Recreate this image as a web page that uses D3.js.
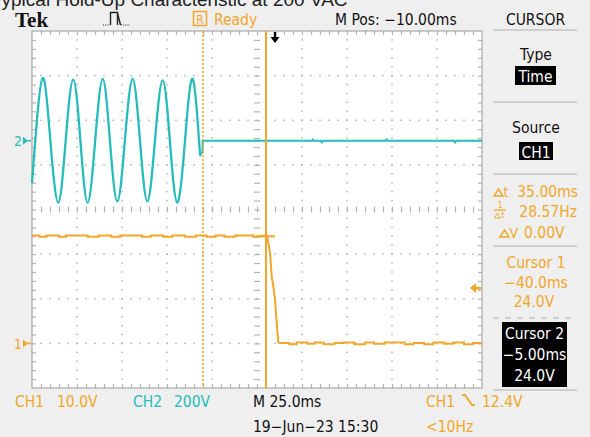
<!DOCTYPE html>
<html>
<head>
<meta charset="utf-8">
<script src="https://cdn.jsdelivr.net/npm/d3@7/dist/d3.min.js"></script>
<style>
  html, body { margin: 0; padding: 0; background: #efefef; }
  svg { display: block; }
</style>
</head>
<body>
<svg id="scope" width="590" height="437"></svg>
<script>
// ---- acquisition settings ----
const timeWindow = [-135, 115];        // ms across the 10 horizontal divisions
const divRange = [-4, 4];              // vertical divisions
const ch1 = { label: "CH1", scale: "10.0V", voltsPerDiv: 10, offsetDiv: -3 };
const ch2 = { label: "CH2", scale: "200V", voltsPerDiv: 200, offsetDiv: 1.54 };
const triggerLevel = 12.4;             // V on CH1
const triggerTime = 0;                 // ms
const cursorTimes = [-40.0, -5.0];     // ms
const cursorVolts = [24.0, 24.0];

// CH2: AC input (peaks, troughs and zero crossings), [ms, V]
const ch2Sine = [
  [-135, -190], [-133.2, 0], [-129.1, 281], [-124.8, 0], [-120.4, -277],
  [-116.3, 0], [-112.1, 274], [-108.1, 0], [-104.1, -277], [-99.9, 0],
  [-95.7, 277], [-91.7, 0], [-87.6, -272], [-83.4, 0], [-79.1, 277],
  [-75.0, 0], [-70.9, -272], [-66.7, 0], [-62.4, 271], [-58.4, 0],
  [-54.3, -277], [-50.0, 0], [-45.7, 277], [-42.2, 0], [-41.4, -54]
];
// CH2 after the input is removed, [ms, V]
const ch2Off = [
  [-41.4, -54], [-40.3, -54], [-40.2, 0], [20.5, 0], [21.0, 5], [21.5, 0],
  [25.5, 0], [26.0, -7], [26.8, 0], [61.5, 0], [62.0, 6], [62.6, 0],
  [99.5, 0], [100.0, -7], [100.8, 0], [115, 0]
];
// CH1: 24 V output, [ms, V]
const ch1High = [
  [-135, 24.2], [-131, 23.9], [-127, 24.2], [-120, 23.9], [-116, 24.2],
  [-109, 24.2], [-104, 23.9], [-98, 24.2], [-91, 23.9], [-86, 24.2],
  [-80, 24.2], [-74, 23.9], [-69, 24.2], [-62, 23.9], [-57, 24.2],
  [-50, 23.9], [-44, 24.2], [-38, 23.9], [-33, 24.2], [-28, 23.9],
  [-22, 24.2], [-17, 24.2], [-12, 23.9], [-8, 24.1], [-4.3, 24.0]
];
const ch1Fall = [
  [-4.3, 24.0], [-4.28, 23.8], [-3.72, 22.6], [-2.78, 20.4], [-1.83, 15.0],
  [-0.94, 12.8], [0.0, 9.9], [0.94, 4.7], [1.83, 0.2], [2.78, 0.0]
];
const ch1Low = [
  [2.78, 0.1], [8, -0.2], [12, 0.2], [18, -0.1], [22, 0.2], [27, -0.2],
  [33, 0.1], [38, 0.2], [44, -0.2], [50, 0.2], [55, -0.1], [61, 0.2],
  [66, 0.2], [72, -0.2], [77, 0.1], [83, -0.2], [88, 0.2], [94, -0.1],
  [99, 0.2], [105, -0.2], [110, 0.1], [115, 0.1]
];

// ---- readouts ----
const titleText = "Typical Hold-Up Characteristic at 200 VAC";
const statusText = { state: "Ready", mpos: "M Pos: \u221210.00ms", menu: "CURSOR" };
const timebase = "M 25.0ms";
const dateStamp = "19\u2212Jun\u221223 15:30";
const trigFreq = "<10Hz";
const deltaT = "35.00ms", invDeltaT = "28.57Hz", deltaV = "0.00V";
const cursorLabels = [
  ["Cursor 1", "\u221240.0ms", "24.0V"],
  ["Cursor 2", "\u22125.00ms", "24.0V"]
];

// ---- styles ----
const ORANGE = "#f2a72c";
const TEAL = "#26bcbc";
const GRID = "#b4b4b4";
const UI_FONT = "'DejaVu Sans Condensed', 'Liberation Sans Narrow', sans-serif";
const FS = 15.5;

const svg = d3.select("#scope").style("font-family", UI_FONT);
const W = 590, H = 437;
svg.append("rect").attr("width", W).attr("height", H).attr("fill", "#efefef");

const plot = { left: 32, right: 482, top: 31, bottom: 388 };
const x = d3.scaleLinear().domain(timeWindow).range([plot.left, plot.right]);
const yDiv = d3.scaleLinear().domain(divRange).range([plot.bottom, plot.top]);
const y1 = v => yDiv(ch1.offsetDiv + v / ch1.voltsPerDiv);
const y2 = v => yDiv(ch2.offsetDiv + v / ch2.voltsPerDiv);

// title (runs off the top edge)
svg.append("text").attr("x", -9).attr("y", 6).attr("font-size", 19)
  .style("font-family", "'Liberation Sans', Arial, sans-serif").attr("fill", "#222")
  .text(titleText);

// graticule background
svg.append("rect").attr("x", plot.left).attr("y", plot.top)
  .attr("width", plot.right - plot.left).attr("height", plot.bottom - plot.top)
  .attr("fill", "#ffffff");

// minor positions: 5 per division
const tSpan = timeWindow[1] - timeWindow[0];
const tMinor = d3.range(0, 51).map(i => timeWindow[0] + i * tSpan / 50);
const tMajor = d3.range(1, 10).map(i => timeWindow[0] + i * tSpan / 10);
const dMinor = d3.range(0, 41).map(i => divRange[0] + i * 0.2);
const dMajor = d3.range(-3, 4);
const tCenter = timeWindow[0] + tSpan / 2;

const g = svg.append("g");
// dotted grid lines
tMajor.filter(t => Math.abs(t - tCenter) > 1e-6).forEach(t => {
  g.selectAll(null).data(dMinor.slice(1, -1)).join("rect")
    .attr("x", x(t) - 0.75).attr("y", d => yDiv(d) - 0.75)
    .attr("width", 1.5).attr("height", 1.5).attr("fill", GRID);
});
dMajor.filter(d => d !== 0).forEach(d => {
  g.selectAll(null).data(tMinor.slice(1, -1)).join("rect")
    .attr("x", t => x(t) - 0.75).attr("y", yDiv(d) - 0.75)
    .attr("width", 1.5).attr("height", 1.5).attr("fill", GRID);
});

// edge and center ticks via axes
function tickAxis(axis, transform, size) {
  const a = g.append("g").attr("transform", transform)
    .call(axis.tickSize(size).tickFormat(""));
  a.select(".domain").remove();
  a.selectAll("line").attr("stroke", GRID).attr("stroke-width", 1.2);
  return a;
}
const tInner = tMinor.slice(1, -1);
const dInner = dMinor.slice(1, -1);
tickAxis(d3.axisBottom(x).tickValues(tInner), `translate(0,${plot.top})`, 4);
tickAxis(d3.axisTop(x).tickValues(tInner), `translate(0,${plot.bottom})`, 4);
tickAxis(d3.axisRight(yDiv).tickValues(dInner), `translate(${plot.left},0)`, 4);
tickAxis(d3.axisLeft(yDiv).tickValues(dInner), `translate(${plot.right},0)`, 4);
tickAxis(d3.axisBottom(x).tickValues(tInner), `translate(0,${yDiv(0) - 3})`, 6);
tickAxis(d3.axisRight(yDiv).tickValues(dInner), `translate(${x(tCenter) - 3},0)`, 6);

// border
svg.append("rect").attr("x", plot.left).attr("y", plot.top)
  .attr("width", plot.right - plot.left).attr("height", plot.bottom - plot.top)
  .attr("fill", "none").attr("stroke", "#a8a8a8").attr("stroke-width", 1.2);

// traces
const traces = svg.append("g");
const sineLine = d3.line().x(d => x(d[0])).y(d => y2(d[1])).curve(d3.curveNatural);
const ch2Line = d3.line().x(d => x(d[0])).y(d => y2(d[1]));
const ch1Step = d3.line().x(d => x(d[0])).y(d => y1(d[1])).curve(d3.curveStepAfter);
const ch1Line = d3.line().x(d => x(d[0])).y(d => y1(d[1]));

traces.append("path").attr("d", sineLine(ch2Sine)).attr("fill", "none")
  .attr("stroke", TEAL).attr("stroke-width", 2.3);
traces.append("path").attr("d", ch2Line(ch2Off)).attr("fill", "none")
  .attr("stroke", TEAL).attr("stroke-width", 2);
traces.append("path").attr("d", ch1Step(ch1High)).attr("fill", "none")
  .attr("stroke", ORANGE).attr("stroke-width", 2);
traces.append("path").attr("d", ch1Line(ch1Fall)).attr("fill", "none")
  .attr("stroke", ORANGE).attr("stroke-width", 2);
traces.append("path").attr("d", ch1Step(ch1Low)).attr("fill", "none")
  .attr("stroke", ORANGE).attr("stroke-width", 2);

// cursors
svg.append("line").attr("x1", x(cursorTimes[0])).attr("x2", x(cursorTimes[0]))
  .attr("y1", plot.top).attr("y2", plot.bottom)
  .attr("stroke", ORANGE).attr("stroke-width", 1.6).attr("stroke-dasharray", "2,2");
svg.append("line").attr("x1", x(cursorTimes[1])).attr("x2", x(cursorTimes[1]))
  .attr("y1", plot.top).attr("y2", plot.bottom)
  .attr("stroke", ORANGE).attr("stroke-width", 2);
svg.append("line").attr("x1", x(cursorTimes[1]) - 10).attr("x2", x(cursorTimes[1]) + 9)
  .attr("y1", y1(cursorVolts[1])).attr("y2", y1(cursorVolts[1]))
  .attr("stroke", ORANGE).attr("stroke-width", 2);

// trigger position arrow
const tx = x(triggerTime);
svg.append("path")
  .attr("d", `M${tx - 1.2},${plot.top + 1} h2.4 v5 h3.3 l-4.5,6 l-4.5,-6 h3.3 z`)
  .attr("fill", "#000");

// trigger level marker
const ty = y1(triggerLevel);
svg.append("path")
  .attr("d", `M${plot.right - 12},${ty} l6,-5 v3.6 h5 v2.8 h-5 v3.6 z`)
  .attr("fill", ORANGE);

// channel ground markers
function groundMarker(label, yPos, color) {
  svg.append("text").attr("x", 14).attr("y", yPos + 5.5).attr("font-size", 14)
    .attr("fill", color).text(label);
  svg.append("path")
    .attr("d", `M${23},${yPos - 4} l5,4 l-5,4 z M${27},${yPos - 0.8} h4 v1.6 h-4 z`)
    .attr("fill", color);
}
groundMarker("1", y1(0), ORANGE);
groundMarker("2", y2(0), TEAL);

// status bar
svg.append("text").attr("x", 15).attr("y", 26.5).attr("font-size", 21)
  .attr("font-weight", "bold").style("font-family", "'Liberation Serif', 'Times New Roman', serif")
  .attr("fill", "#111").text("Tek");
// acquisition icon
svg.append("path")
  .attr("d", "M110.5,25 V12.5 H117.5 V25 M117.5,13 L120.5,25")
  .attr("fill", "none").attr("stroke", "#222").attr("stroke-width", 1.4);
svg.append("line").attr("x1", 103).attr("x2", 110).attr("y1", 25).attr("y2", 25)
  .attr("stroke", "#333").attr("stroke-width", 1.2).attr("stroke-dasharray", "1,1.2");
svg.append("line").attr("x1", 121).attr("x2", 130).attr("y1", 25).attr("y2", 25)
  .attr("stroke", "#333").attr("stroke-width", 1.2).attr("stroke-dasharray", "1,1.2");
svg.append("rect").attr("x", 193.5).attr("y", 11.5).attr("width", 13).attr("height", 14)
  .attr("fill", "none").attr("stroke", ORANGE).attr("stroke-width", 1.5);
svg.append("text").attr("x", 200).attr("y", 23.5).attr("font-size", 12)
  .attr("text-anchor", "middle").attr("fill", ORANGE).text("R");
svg.append("text").attr("x", 214).attr("y", 25).attr("font-size", FS)
  .attr("fill", ORANGE).text(statusText.state);
svg.append("text").attr("x", 335).attr("y", 25).attr("font-size", FS)
  .attr("fill", "#111").text(statusText.mpos);
svg.append("text").attr("x", 535.5).attr("y", 25).attr("font-size", FS)
  .attr("text-anchor", "middle").attr("fill", "#111").text(statusText.menu);

// side menu
const side = svg.append("g");
const sepYs = [30, 102, 174, 246, 390];
sepYs.forEach(yy => side.append("line").attr("x1", 493).attr("x2", 577)
  .attr("y1", yy).attr("y2", yy).attr("stroke", "#c4c4c4").attr("stroke-width", 1.6));
side.append("line").attr("x1", 493).attr("x2", 577).attr("y1", 318).attr("y2", 318)
  .attr("stroke", "#c4c4c4").attr("stroke-width", 1.6).attr("stroke-dasharray", "6,6");

const cx = 536;
function sideText(t, yy, color, anchor = "middle", xx = cx) {
  return side.append("text").attr("x", xx).attr("y", yy).attr("font-size", FS)
    .attr("text-anchor", anchor).attr("fill", color).text(t);
}
sideText("Type", 60, "#111");
side.append("rect").attr("x", 515).attr("y", 66).attr("width", 41).attr("height", 19).attr("fill", "#000");
sideText("Time", 81.5, "#fff", "middle", 535.5);
sideText("Source", 133, "#111");
side.append("rect").attr("x", 519).attr("y", 142).attr("width", 34).attr("height", 18).attr("fill", "#000");
sideText("CH1", 157.5, "#fff", "middle", 536);

// delta readouts
function deltaGlyph(x0, yb, suffix) {
  side.append("path").attr("d", `M${x0},${yb - 1} l4.5,-7 l4.5,7 z`)
    .attr("fill", "none").attr("stroke", ORANGE).attr("stroke-width", 1.4);
  side.append("text").attr("x", x0 + 9.5).attr("y", yb).attr("font-size", 14)
    .attr("fill", ORANGE).text(suffix);
}
deltaGlyph(494, 197, "t");
sideText(deltaT, 197, ORANGE, "end", 578);
// 1/Δt glyph
side.append("text").attr("x", 500).attr("y", 208).attr("font-size", 9)
  .attr("text-anchor", "middle").attr("fill", ORANGE).text("1");
side.append("line").attr("x1", 494).attr("x2", 506).attr("y1", 210).attr("y2", 210)
  .attr("stroke", ORANGE).attr("stroke-width", 1.3);
side.append("path").attr("d", `M494.5,218 l3,-5 l3,5 z`).attr("fill", "none")
  .attr("stroke", ORANGE).attr("stroke-width", 1);
side.append("text").attr("x", 501.5).attr("y", 218).attr("font-size", 8)
  .attr("fill", ORANGE).text("t");
sideText(invDeltaT, 217, ORANGE, "end", 577);
deltaGlyph(500, 238, "V");
sideText(deltaV, 238, ORANGE, "start", 524);

sideText(cursorLabels[0][0], 268, ORANGE);
sideText(cursorLabels[0][1], 288, ORANGE);
sideText(cursorLabels[0][2], 307, ORANGE, "middle", 534);
side.append("rect").attr("x", 502).attr("y", 322).attr("width", 65).attr("height", 65).attr("fill", "#000");
sideText(cursorLabels[1][0], 339, "#fff", "middle", 534.5);
sideText(cursorLabels[1][1], 360, "#fff", "middle", 534.5);
sideText(cursorLabels[1][2], 381, "#fff", "middle", 534.5);

// bottom readouts
function bottomText(t, xx, yy, color) {
  svg.append("text").attr("x", xx).attr("y", yy).attr("font-size", FS)
    .attr("fill", color).text(t);
}
bottomText(ch1.label, 15, 407, ORANGE);
bottomText(ch1.scale, 57, 407, ORANGE);
bottomText(ch2.label, 133, 407, TEAL);
bottomText(ch2.scale, 174, 407, TEAL);
bottomText(timebase, 253, 407, "#111");
bottomText(dateStamp, 253, 432, "#111");
bottomText(ch1.label, 426, 407, ORANGE);
svg.append("path").attr("d", "M462,395 h3 l7,10 h3")
  .attr("fill", "none").attr("stroke", ORANGE).attr("stroke-width", 1.8);
bottomText(triggerLevel.toFixed(1) + "V", 482, 407, ORANGE);
bottomText(trigFreq, 426, 432, ORANGE);
</script>
</body>
</html>
